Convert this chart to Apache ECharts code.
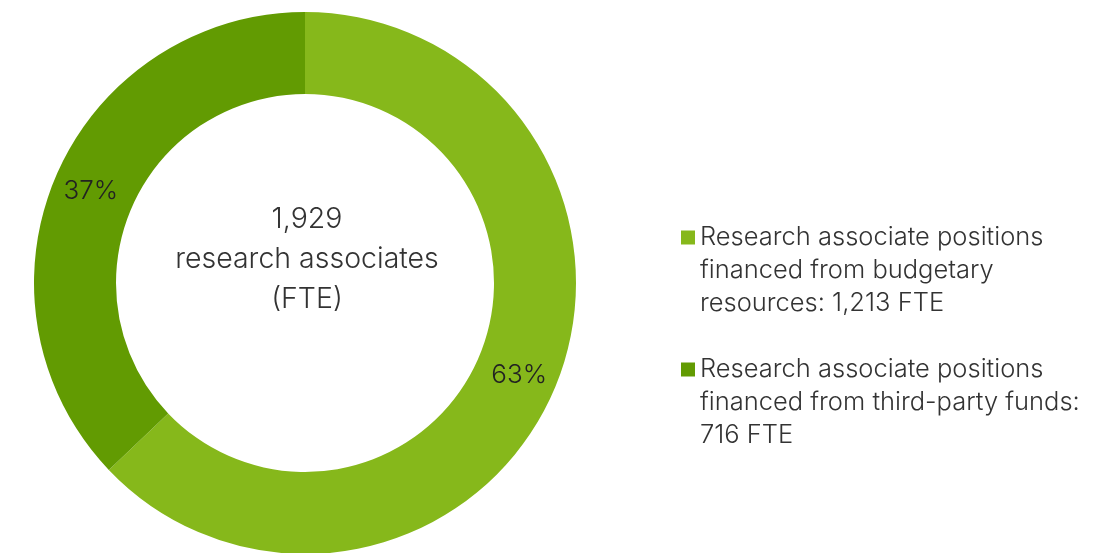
<!DOCTYPE html>
<html>
<head>
<meta charset="utf-8">
<title>Research associates</title>
<script src="https://cdn.jsdelivr.net/npm/echarts@6/dist/echarts.min.js"></script>
<style>
    html, body { margin: 0; padding: 0; background: #fff; }
    #chart { width: 1115px; height: 553px; }
</style>
</head>
<body>
<div id="chart"></div>
<script>
// data
const categories = [
    'Research associate positions\nfinanced from budgetary\nresources: 1,213 FTE',
    'Research associate positions\nfinanced from third-party funds:\n716 FTE'
];
const values = [1213, 716];
const totalLabel = '1,929\nresearch associates\n(FTE)';

const colors = ['#86b81b', '#629b02'];
const font = 'Inter, Roboto, sans-serif';

const chart = echarts.init(document.getElementById('chart'));

chart.setOption({
    animation: false,
    color: colors,
    legend: {
        orient: 'vertical',
        left: 676,
        top: 150,
        itemWidth: 14,
        itemHeight: 14,
        itemGap: -33,
        icon: 'rect',
        selectedMode: false,
        // two blank lines on top so the square lines up with the first line
        formatter: name => '\n\n' + name,
        textStyle: {
            fontFamily: font,
            fontWeight: 300,
            fontSize: 25.5,
            color: '#333',
            lineHeight: 33
        },
        data: categories
    },
    graphic: [
        {
            type: 'text',
            x: 307,
            y: 259,
            style: {
                text: totalLabel,
                align: 'center',
                verticalAlign: 'middle',
                fontFamily: font,
                fontWeight: 300,
                fontSize: 28.5,
                lineHeight: 40,
                fill: '#333'
            }
        }
    ],
    series: [
        {
            type: 'pie',
            center: [305, 283],
            radius: [189, 271],
            startAngle: 90,
            clockwise: true,
            percentPrecision: 0,
            emphasis: { disabled: true },
            label: {
                position: 'inside',
                formatter: '{d}%',
                fontFamily: font,
                fontWeight: 300,
                fontSize: 26,
                color: '#222'
            },
            labelLine: { show: false },
            data: categories.map((name, i) => ({ name, value: values[i] }))
        }
    ]
});
</script>
</body>
</html>
